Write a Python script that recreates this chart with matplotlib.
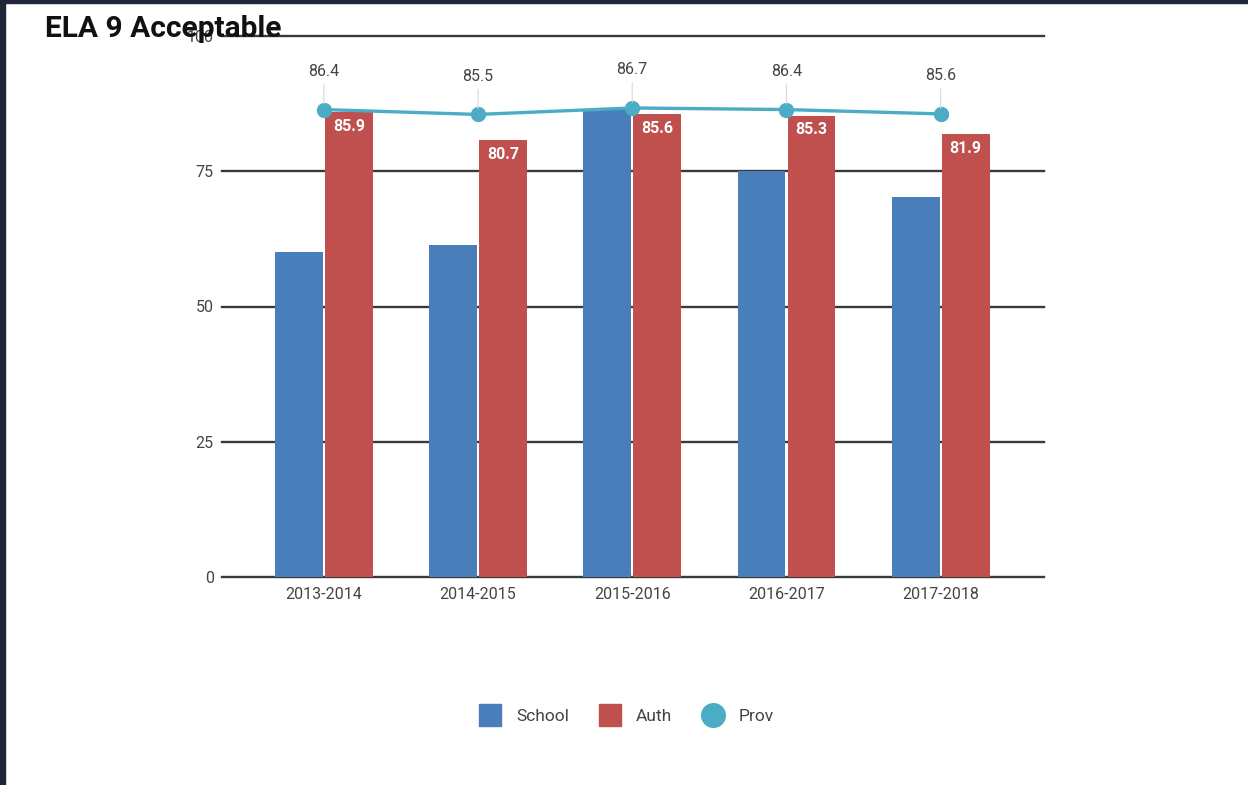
import matplotlib
matplotlib.use("Agg")
import matplotlib.pyplot as plt
from matplotlib.lines import Line2D
import numpy as np

plt.rcParams['font.family'] = ['Roboto', 'DejaVu Sans']

years = ["2013-2014", "2014-2015", "2015-2016", "2016-2017", "2017-2018"]
school = [60.0, 61.4, 86.5, 75.0, 70.2]
auth = [85.9, 80.7, 85.6, 85.3, 81.9]
prov = [86.4, 85.5, 86.7, 86.4, 85.6]
yticks = [0, 25, 50, 75, 100]

BLUE = "#4a7ebb"
RED = "#c0504d"
TEAL = "#4bacc6"
GRID = "#3a3a3a"
TXT = "#444444"

fig = plt.figure(figsize=(12.48, 7.85), dpi=100)
fig.patch.set_facecolor("white")

# dark frame of the surrounding window
fig.patches.append(plt.Rectangle((0, 0), 5 / 1248, 1, transform=fig.transFigure,
                                 color="#1f2638", zorder=10))
fig.patches.append(plt.Rectangle((0, 1 - 3 / 785), 1, 3 / 785, transform=fig.transFigure,
                                 color="#1f2638", zorder=10))

ax = fig.add_axes([222 / 1248, 1 - 577 / 785, (1044 - 222) / 1248, (577 - 36) / 785])
x = np.arange(len(years))
w = 0.31
off = 0.162

ax.bar(x - off, school, width=w, color=BLUE, zorder=3)
ax.bar(x + off, auth, width=w, color=RED, zorder=3)
ax.plot(x, prov, color=TEAL, lw=2.4, marker="o", ms=10, zorder=5)

for xi, v in zip(x, auth):
    ax.annotate(f"{v}", (xi + off, v), xytext=(0, -5), textcoords="offset points",
                ha="center", va="top", color="white", fontsize=11.5, fontweight="bold", zorder=6)

for xi, v in zip(x, prov):
    ax.annotate(f"{v}", (xi, v), xytext=(0, 22), textcoords="offset points",
                ha="center", va="bottom", color=TXT, fontsize=11.5, zorder=6,
                arrowprops=dict(arrowstyle="-", color="#d8d8d8", lw=0.8,
                                shrinkA=2, shrinkB=4))

ax.set_xlim(-0.66, 4.67)
ax.set_ylim(0, 100)
ax.set_yticks(yticks)
ax.set_yticklabels([str(t) for t in yticks])
ax.set_xticks(x)
ax.set_xticklabels(years)
ax.tick_params(axis="both", length=0, labelsize=11.5, labelcolor=TXT)
ax.tick_params(axis="y", pad=6)
ax.tick_params(axis="x", pad=7)
for s in ax.spines.values():
    s.set_visible(False)
ax.grid(axis="y", color=GRID, lw=1.7, zorder=1)
ax.set_axisbelow(True)
for gl in ax.get_ygridlines():
    gl.set_clip_on(False)

fig.text(45 / 1248, 1 - 29 / 785, "ELA 9 Acceptable", fontsize=21.5, fontweight="bold",
         color="#111111", ha="left", va="center", zorder=20)

handles = [
    Line2D([], [], ls="", marker="s", ms=16, color=BLUE),
    Line2D([], [], ls="", marker="s", ms=16, color=RED),
    Line2D([], [], ls="", marker="o", ms=17, color=TEAL),
]
fig.legend(handles, ["School", "Auth", "Prov"], loc="center",
           bbox_to_anchor=(627 / 1248, 1 - 716 / 785), ncol=3, frameon=False,
           fontsize=12.5, labelcolor=TXT, handlelength=1.2, handletextpad=0.9,
           columnspacing=1.75)

fig.savefig("out.png", dpi=100)
